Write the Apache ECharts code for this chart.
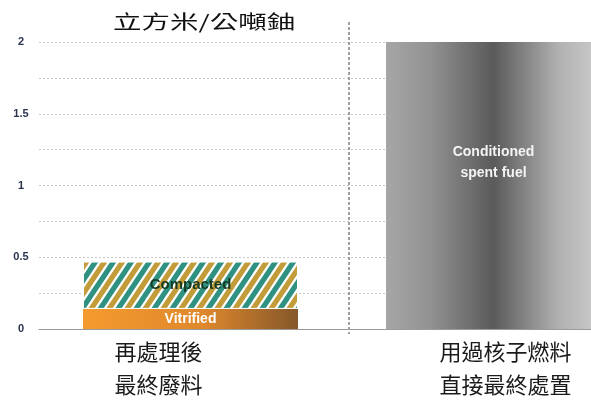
<!DOCTYPE html>
<html><head><meta charset="utf-8">
<script src="https://cdn.jsdelivr.net/npm/echarts@6/dist/echarts.min.js"></script>
<style>html,body{margin:0;padding:0;background:#fff;overflow:hidden;width:591px;height:401px}#c{width:646px;height:401px}</style>
</head><body><div id="c"></div>
<script>
const categories = ['再處理後\n最終廢料', '用過核子燃料\n直接最終處置'];
const vitrified = [0.14, '-'];
const compacted = [0.33, '-'];
const spentFuel = ['-', 2.0];
const yTicks = [0, 0.5, 1, 1.5, 2];
const unitTitle = '立方米/公噸鈾';

function stripes(){
  const w = 18, h = 27, c = document.createElement('canvas');
  c.width = w; c.height = h;
  const g = c.getContext('2d');
  g.fillStyle = '#fff'; g.fillRect(0, 0, w, h);
  g.lineWidth = 5.2;
  function line(off, col){
    g.strokeStyle = col;
    for (const k of [-w, 0, w]) {
      g.beginPath(); g.moveTo(off + k - 2, h + 3); g.lineTo(off + k + w + 2, -3); g.stroke();
    }
  }
  line(0, '#2e9181');
  line(w / 2, '#c39c3a');
  return c;
}

const chart = echarts.init(document.getElementById('c'), null, {renderer: 'canvas'});
const cjk = '"Noto Sans CJK TC", "Noto Sans CJK SC", sans-serif';
const sans = 'Liberation Sans, Arial, sans-serif';
chart.setOption({
  animation: false,
  backgroundColor: '#fff',
  grid: {left: 39, top: 42, width: 606, height: 292, containLabel: false},
  xAxis: {
    type: 'category',
    data: [
      {value: categories[0], textStyle: {padding: [0, 64, 0, 0]}},
      {value: categories[1], textStyle: {padding: [0, 0, 0, 24]}}
    ],
    axisTick: {show: false},
    axisLine: {lineStyle: {color: '#9a9a9a', width: 1}},
    axisLabel: {interval: 0, fontSize: 22, lineHeight: 33, color: '#1a1a1a', margin: 6, fontFamily: cjk}
  },
  yAxis: {
    type: 'value', min: 0, max: 2, interval: 0.25,
    axisLine: {show: false}, axisTick: {show: false},
    splitLine: {lineStyle: {type: [2, 2], color: '#c8c8c8', width: 1}},
    axisLabel: {
      formatter: v => yTicks.includes(v) ? String(v) : '',
      color: '#2a3350', fontSize: 11, fontWeight: 'bold', align: 'center', margin: 18,
      padding: [0, 0, 3, 0], fontFamily: sans
    }
  },
  series: [
    {
      name: 'Vitrified', type: 'bar', stack: 'a', barWidth: 215, data: vitrified,
      itemStyle: {color: new echarts.graphic.LinearGradient(0, 0, 1, 0, [
        {offset: 0, color: '#f49a2e'}, {offset: 0.55, color: '#e0892c'}, {offset: 1, color: '#85572a'}])},
      label: {show: true, formatter: 'Vitrified', color: '#fff', fontSize: 14, fontWeight: 'bold', fontFamily: sans}
    },
    {
      name: 'Compacted', type: 'bar', stack: 'a', barWidth: 215, data: compacted,
      itemStyle: {color: {image: stripes(), repeat: 'repeat'}, borderColor: '#fff', borderWidth: 1},
      label: {show: true, formatter: 'Compacted', color: '#163b22', fontSize: 15, fontWeight: 'bold', fontFamily: sans}
    },
    {
      name: 'Conditioned spent fuel', type: 'bar', stack: 'a', barWidth: 215, data: spentFuel,
      itemStyle: {color: new echarts.graphic.LinearGradient(0, 0, 1, 0, [
        {offset: 0, color: '#a6a6a6'}, {offset: 0.2, color: '#939393'}, {offset: 0.5, color: '#5a5a5a'},
        {offset: 0.8, color: '#b0b0b0'}, {offset: 1, color: '#cdcdcd'}])},
      label: {show: true, formatter: 'Conditioned\nspent fuel', position: ['50%', '42%'],
        align: 'center', verticalAlign: 'middle', color: '#f4f4f4', fontSize: 14, fontWeight: 'bold',
        lineHeight: 21, fontFamily: sans}
    }
  ],
  graphic: [
    {type: 'line', shape: {x1: 349, y1: 22, x2: 349, y2: 334}, style: {stroke: '#a0a0a0', lineWidth: 2, lineDash: [3, 2]}, z: 1},
    {type: 'text', x: 113, y: 12, scaleX: 1.5, style: {text: unitTitle, fontSize: 19, fill: '#111', fontFamily: cjk}}
  ]
});
</script></body></html>
